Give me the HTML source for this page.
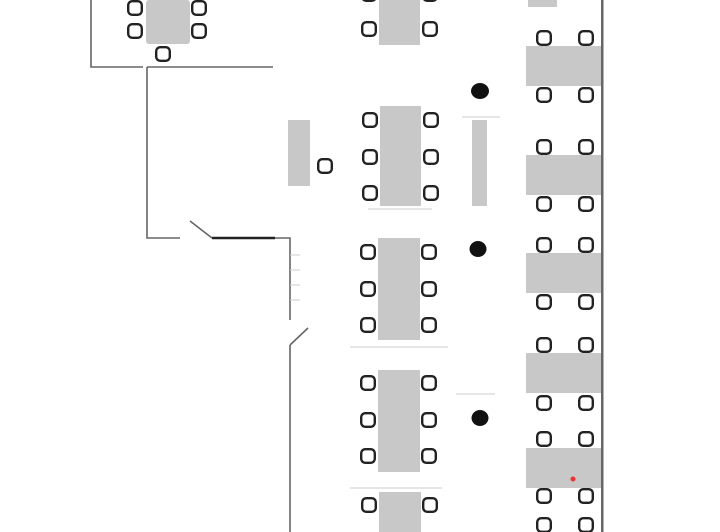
<!DOCTYPE html>
<html><head><style>html,body{margin:0;padding:0;background:#fff;}svg{display:block}</style></head>
<body>
<svg width="720" height="532" viewBox="0 0 720 532" xmlns="http://www.w3.org/2000/svg">
<defs>
<g id="c"><rect x="1.2" y="1.2" width="13.6" height="13.6" rx="4" fill="#fff" stroke="#222" stroke-width="2.4"/></g>
</defs>
<g fill="#c8c8c8">
<rect x="146" y="0" width="44" height="44" rx="3"/>
<rect x="288" y="120" width="22" height="66"/>
<rect x="379" y="0" width="41" height="45"/>
<rect x="380" y="106" width="41" height="100"/>
<rect x="378" y="238" width="42" height="102"/>
<rect x="378" y="370" width="42" height="102"/>
<rect x="379" y="492" width="42" height="40"/>
<rect x="472" y="120" width="15" height="86"/>
<rect x="528" y="0" width="29" height="7"/>
<rect x="526" y="46" width="75" height="40"/>
<rect x="526" y="155" width="75" height="40"/>
<rect x="526" y="253" width="75" height="40"/>
<rect x="526" y="353" width="75" height="40"/>
<rect x="526" y="448" width="75" height="40"/>
</g>
<g stroke="#666" stroke-width="1.6" fill="none">
<path d="M91 0 V67 H143 M147 67 H273 M147 67 V238 H180 M275 238 H290 V320 M290 345 V532"/>
<path d="M190 221 L212 238"/>
<path d="M290 345 L308 328"/>
</g>
<path d="M212 238 H275" stroke="#222" stroke-width="2.5"/>
<g stroke="#ccc" stroke-width="1">
<path d="M290 255 H300 M290 270 H300 M290 285 H300 M290 300 H300"/>
<path d="M368 209 H432 M462 117 H500 M350 347 H448 M456 394 H495 M350 488 H442"/>
</g>
<rect x="601" y="0" width="2.5" height="532" fill="#666"/>
<g fill="#111">
<ellipse cx="480" cy="91" rx="9" ry="8"/>
<ellipse cx="478" cy="249" rx="8.5" ry="8"/>
<ellipse cx="480" cy="418" rx="8.5" ry="8"/>
</g>
<circle cx="573" cy="479" r="2.5" fill="#e33"/>
<use href="#c" x="127" y="0"/><use href="#c" x="127" y="23"/>
<use href="#c" x="191" y="0"/><use href="#c" x="191" y="23"/>
<use href="#c" x="155" y="46"/>
<use href="#c" x="317" y="158"/>
<use href="#c" x="361" y="-14"/><use href="#c" x="422" y="-14"/>
<use href="#c" x="361" y="21"/><use href="#c" x="422" y="21"/>
<use href="#c" x="362" y="112"/><use href="#c" x="362" y="149"/><use href="#c" x="362" y="185"/>
<use href="#c" x="423" y="112"/><use href="#c" x="423" y="149"/><use href="#c" x="423" y="185"/>
<use href="#c" x="360" y="244"/><use href="#c" x="360" y="281"/><use href="#c" x="360" y="317"/>
<use href="#c" x="421" y="244"/><use href="#c" x="421" y="281"/><use href="#c" x="421" y="317"/>
<use href="#c" x="360" y="375"/><use href="#c" x="360" y="412"/><use href="#c" x="360" y="448"/>
<use href="#c" x="421" y="375"/><use href="#c" x="421" y="412"/><use href="#c" x="421" y="448"/>
<use href="#c" x="361" y="497"/><use href="#c" x="422" y="497"/>
<use href="#c" x="536" y="30"/><use href="#c" x="578" y="30"/>
<use href="#c" x="536" y="87"/><use href="#c" x="578" y="87"/>
<use href="#c" x="536" y="139"/><use href="#c" x="578" y="139"/>
<use href="#c" x="536" y="196"/><use href="#c" x="578" y="196"/>
<use href="#c" x="536" y="237"/><use href="#c" x="578" y="237"/>
<use href="#c" x="536" y="294"/><use href="#c" x="578" y="294"/>
<use href="#c" x="536" y="337"/><use href="#c" x="578" y="337"/>
<use href="#c" x="536" y="395"/><use href="#c" x="578" y="395"/>
<use href="#c" x="536" y="431"/><use href="#c" x="578" y="431"/>
<use href="#c" x="536" y="488"/><use href="#c" x="578" y="488"/>
<use href="#c" x="536" y="517"/><use href="#c" x="578" y="517"/>
</svg>
</body></html>
